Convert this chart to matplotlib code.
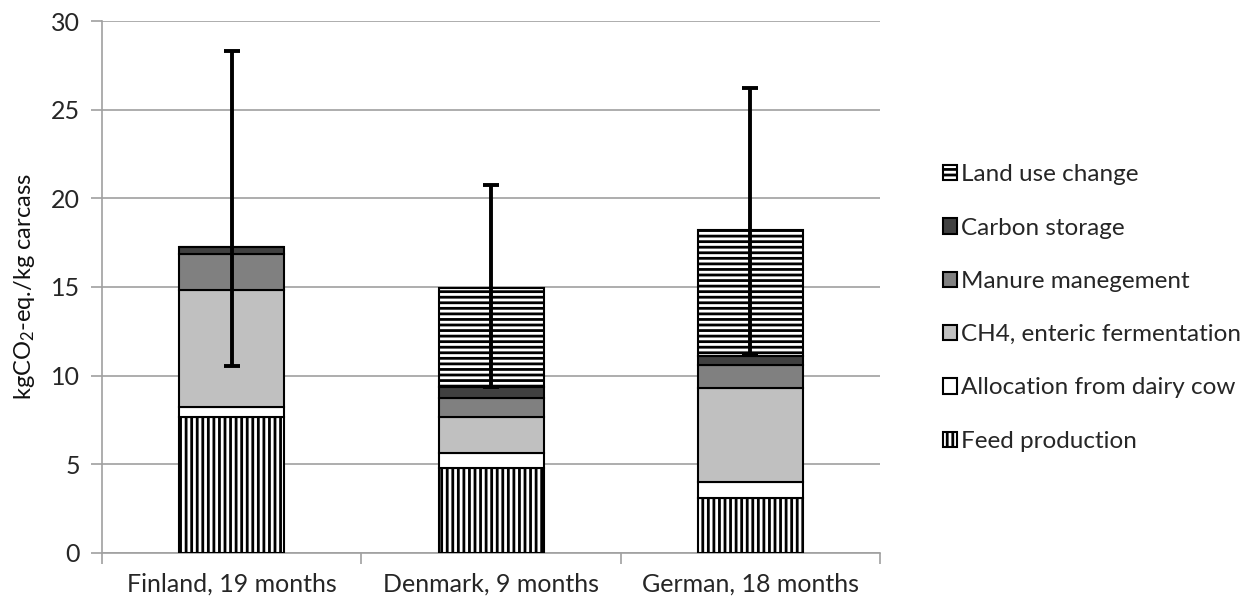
import matplotlib
matplotlib.use("Agg")
import matplotlib.pyplot as plt
import numpy as np

categories = ["Finland, 19 months", "Denmark, 9 months", "German, 18 months"]
feed_production = [7.67, 4.80, 3.10]
allocation_dairy = [0.56, 0.85, 0.90]
ch4_enteric = [6.60, 2.00, 5.30]
manure = [2.03, 1.10, 1.30]
carbon_storage = [0.40, 0.60, 0.50]
land_use_change = [0.00, 5.60, 7.10]
err_low = [10.55, 9.35, 11.15]
err_high = [28.30, 20.76, 26.20]

series_names = ["Feed production", "Allocation from dairy cow", "CH4, enteric fermentation",
                "Manure manegement", "Carbon storage", "Land use change"]
series = [feed_production, allocation_dairy, ch4_enteric, manure, carbon_storage, land_use_change]
colors = ["white", "white", "#c0c0c0", "#808080", "#404040", "white"]
hatches = ["|||", None, None, None, None, "---"]

plt.rcParams['font.family'] = ['Lato', 'DejaVu Sans']
plt.rcParams['mathtext.fontset'] = 'custom'
plt.rcParams['mathtext.rm'] = 'Lato'
plt.rcParams['mathtext.it'] = 'Lato'
plt.rcParams['hatch.linewidth'] = 2.0
plt.rcParams['hatch.color'] = 'black'

FS = 18

fig = plt.figure(figsize=(12.52, 6.07), dpi=100)
ax = fig.add_axes([0.0815, 0.089, 0.6215, 0.8764])

x = np.arange(len(categories))
bottom = np.zeros(len(categories))
handles = []
for name, vals, c, h in zip(series_names, series, colors, hatches):
    vals = np.array(vals)
    b = ax.bar(x, vals, width=0.405, bottom=bottom, color=c, edgecolor='black',
               linewidth=1.5, hatch=h, label=name, zorder=3)
    handles.append(b)
    bottom = bottom + vals

totals = bottom
yerr = np.array([totals - np.array(err_low), np.array(err_high) - totals])
ax.errorbar(x, totals, yerr=yerr, fmt='none', ecolor='black', elinewidth=2.8,
            capsize=6, capthick=2.8, zorder=4)

ax.set_xlim(-0.5, 2.5)
ax.set_ylim(0, 30)
ax.set_yticks(np.arange(0, 31, 5))
ax.set_xticks(x)
ax.set_xticklabels(categories)
ax.set_xticks([-0.5, 0.5, 1.5, 2.5], minor=True)
ax.tick_params(axis='x', which='major', length=0, pad=14, labelsize=FS, colors='#262626')
ax.tick_params(axis='x', which='minor', length=8, width=1.2, color='#a0a0a0')
ax.tick_params(axis='y', length=8, width=1.2, color='#a0a0a0', labelsize=FS, labelcolor='#262626', pad=8)
ax.grid(axis='y', color='#a0a0a0', linewidth=1.2, zorder=0)
ax.set_axisbelow(True)
for s in ['top', 'right']:
    ax.spines[s].set_visible(False)
for s in ['left', 'bottom']:
    ax.spines[s].set_color('#a0a0a0')
    ax.spines[s].set_linewidth(1.2)

ax.set_ylabel(r'kgCO$_2$-eq./kg carcass', fontsize=17, color='#111111', labelpad=10)

leg = fig.legend(handles[::-1], series_names[::-1], loc='center left',
                 bbox_to_anchor=(0.753, 0.4926), frameon=False, fontsize=17.5,
                 handlelength=0.6, handleheight=0.6, handletextpad=0.15,
                 labelspacing=1.33, borderpad=0, borderaxespad=0)
for t in leg.get_texts():
    t.set_color('#262626')

fig.savefig("out.png", dpi=100)
